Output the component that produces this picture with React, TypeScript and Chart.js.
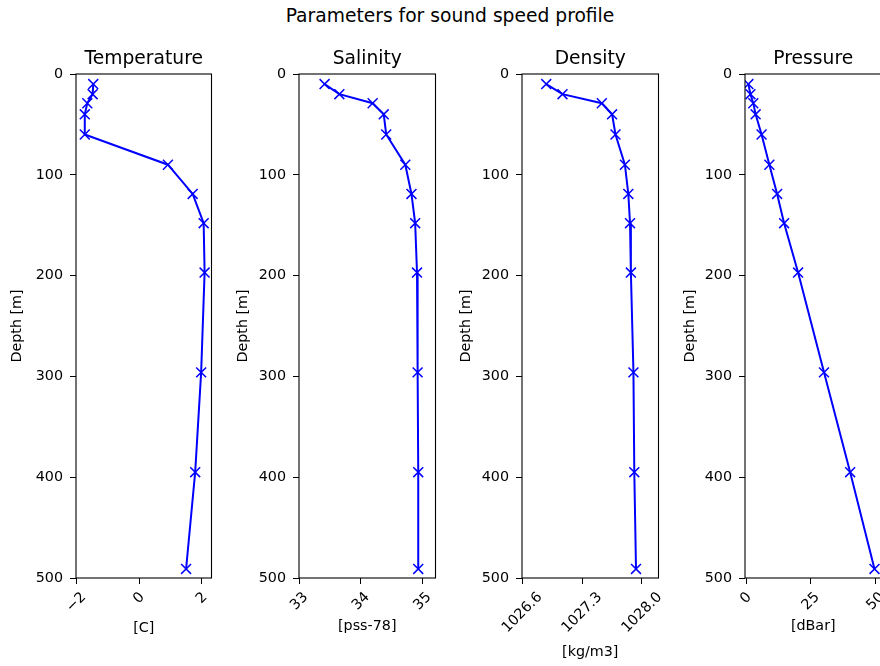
import React, { useEffect, useRef } from "react";
import { Chart, registerables } from "chart.js";

Chart.register(...registerables);

// ---------------- data ----------------
const depths = [10, 20, 29, 40, 60, 90, 119, 148, 197, 296, 395, 491];
const temperature = [-1.46, -1.48, -1.65, -1.73, -1.73, 0.92, 1.71, 2.06, 2.09, 1.98, 1.79, 1.5];
const salinity = [33.41, 33.65, 34.19, 34.37, 34.41, 34.72, 34.82, 34.88, 34.91, 34.92, 34.93, 34.93];
const density = [1026.88, 1027.07, 1027.53, 1027.65, 1027.69, 1027.8, 1027.84, 1027.86, 1027.87, 1027.9, 1027.91, 1027.93];
const pressure = [0.9, 1.7, 2.8, 3.7, 6.0, 9.0, 12.0, 14.7, 20.1, 30.1, 40.2, 49.6];

const depthTicks = [0, 100, 200, 300, 400, 500];
const temperatureTicks = [-2, 0, 2];
const temperatureTickLabels = ["\u22122", "0", "2"];
const salinityTicks = [33, 34, 35];
const salinityTickLabels = ["33", "34", "35"];
const densityTicks = [1026.6, 1027.3, 1028.0];
const densityTickLabels = ["1026.6", "1027.3", "1028.0"];
const pressureTicks = [0, 25, 50];
const pressureTickLabels = ["0", "25", "50"];

const panelTitles = ["Temperature", "Salinity", "Density", "Pressure"];
const xLabels = ["[C]", "[pss-78]", "[kg/m3]", "[dBar]"];
const yLabel = "Depth [m]";
const suptitle = "Parameters for sound speed profile";

// ---------------- style / layout ----------------
const FONT = '"DejaVu Sans", sans-serif';
const TICK_SIZE = 14.3;
const TITLE_SIZE = 18.7;
const H = 666;
const PLOT_TOP = 74;
const PLOT_BOTTOM = 578;
const Y_AXIS_W = 76;
const RIGHT_PAD = 8;
const TICK_LEN = 6;
const TICK_PAD = 5;

type Panel = {
  title: string;
  xLabel: string;
  values: number[];
  min: number;
  max: number;
  ticks: number[];
  tickLabels: string[];
  plotLeft: number;
  plotWidth: number;
  xTitlePad: number;
  yTitlePad: number;
};

const panels: Panel[] = [
  { title: panelTitles[0], xLabel: xLabels[0], values: temperature, min: -2.01, max: 2.31, ticks: temperatureTicks, tickLabels: temperatureTickLabels, plotLeft: 76, plotWidth: 136, xTitlePad: 29, yTitlePad: 8.4 },
  { title: panelTitles[1], xLabel: xLabels[1], values: salinity, min: 32.995, max: 35.21, ticks: salinityTicks, tickLabels: salinityTickLabels, plotLeft: 299, plotWidth: 137, xTitlePad: 31.4, yTitlePad: 11.9 },
  { title: panelTitles[2], xLabel: xLabels[2], values: density, min: 1026.5965, max: 1028.193, ticks: densityTicks, tickLabels: densityTickLabels, plotLeft: 522, plotWidth: 137, xTitlePad: 5.4, yTitlePad: 11.4 },
  { title: panelTitles[3], xLabel: xLabels[3], values: pressure, min: -0.4, max: 52.3, ticks: pressureTicks, tickLabels: pressureTickLabels, plotLeft: 745, plotWidth: 137, xTitlePad: 31.4, yTitlePad: 12.4 },
];

const decorPlugin = {
  id: "panelDecor",
  afterDraw(chart: any, _args: any, opts: any) {
    const { ctx, chartArea: a } = chart;
    ctx.save();
    // frame (all four spines)
    ctx.strokeStyle = "#000";
    ctx.lineWidth = 1.1;
    ctx.strokeRect(a.left, a.top, a.right - a.left, a.bottom - a.top);
    // subplot title
    ctx.fillStyle = "#000";
    ctx.font = `${TITLE_SIZE}px ${FONT}`;
    ctx.textAlign = "center";
    ctx.textBaseline = "alphabetic";
    ctx.fillText(opts.title, (a.left + a.right) / 2, 64);
    // rotated x tick labels, centred on their tick (matplotlib style)
    const xs = chart.scales.x;
    ctx.font = `${TICK_SIZE}px ${FONT}`;
    ctx.textAlign = "center";
    ctx.textBaseline = "middle";
    const hgt = TICK_SIZE * 1.17;
    opts.ticks.forEach((v: number, i: number) => {
      const s = opts.tickLabels[i];
      const px = xs.getPixelForValue(v);
      const w = ctx.measureText(s).width;
      const half = ((w + hgt) * Math.SQRT1_2) / 2;
      const cy = a.bottom + TICK_LEN + TICK_PAD + half;
      ctx.save();
      ctx.translate(px, cy);
      ctx.rotate(-Math.PI / 4);
      ctx.fillText(s, 0, 0);
      ctx.restore();
    });
    ctx.restore();
  },
};

function PanelChart({ p }: { p: Panel }) {
  const ref = useRef<HTMLCanvasElement | null>(null);
  const cw = Y_AXIS_W + p.plotWidth + RIGHT_PAD;
  useEffect(() => {
    if (!ref.current) return;
    const chart = new Chart(ref.current, {
      type: "scatter",
      data: {
        datasets: [
          {
            data: p.values.map((v, i) => ({ x: v, y: depths[i] })),
            showLine: true,
            borderColor: "#0000ff",
            backgroundColor: "#0000ff",
            borderWidth: 2,
            pointStyle: "crossRot",
            pointRadius: 7,
            pointBorderWidth: 1.5,
            pointBorderColor: "#0000ff",
            tension: 0,
          } as any,
        ],
      },
      plugins: [decorPlugin as any],
      options: {
        responsive: false,
        animation: false,
        devicePixelRatio: 1,
        events: [],
        layout: { padding: { left: 0, top: PLOT_TOP, right: RIGHT_PAD, bottom: 0 } },
        plugins: {
          legend: { display: false },
          tooltip: { enabled: false },
          title: { display: false },
          panelDecor: { title: p.title, ticks: p.ticks, tickLabels: p.tickLabels },
        } as any,
        scales: {
          x: {
            type: "linear",
            position: "bottom",
            min: p.min,
            max: p.max,
            afterBuildTicks: (s: any) => {
              s.ticks = p.ticks.map((v) => ({ value: v }));
            },
            afterFit: (s: any) => {
              s.height = H - PLOT_BOTTOM;
            },
            ticks: { display: false },
            grid: { display: true, drawOnChartArea: false, drawTicks: true, tickLength: TICK_LEN, color: "#000", lineWidth: 1 },
            border: { display: false },
            title: {
              display: true,
              text: p.xLabel,
              color: "#000",
              font: { family: FONT, size: TICK_SIZE, lineHeight: 1.2 },
              padding: { top: 0, bottom: p.xTitlePad },
            },
          },
          y: {
            type: "linear",
            position: "left",
            reverse: true,
            min: 0,
            max: 500,
            afterBuildTicks: (s: any) => {
              s.ticks = depthTicks.map((v) => ({ value: v }));
            },
            afterFit: (s: any) => {
              s.width = Y_AXIS_W;
            },
            ticks: {
              color: "#000",
              padding: 7,
              font: { family: FONT, size: TICK_SIZE },
              callback: (v: any) => String(v),
            },
            grid: { display: true, drawOnChartArea: false, drawTicks: true, tickLength: TICK_LEN, color: "#000", lineWidth: 1 },
            border: { display: false },
            title: {
              display: true,
              text: yLabel,
              color: "#000",
              font: { family: FONT, size: TICK_SIZE, lineHeight: 1.2 },
              padding: { top: p.yTitlePad, bottom: 0 },
            },
          },
        },
      } as any,
    });
    return () => chart.destroy();
  }, [p]);
  return (
    <canvas
      ref={ref}
      width={cw}
      height={H}
      style={{ position: "absolute", left: p.plotLeft - Y_AXIS_W, top: 0, width: cw, height: H }}
    />
  );
}

export default function App() {
  return (
    <div
      style={{
        position: "fixed",
        left: 0,
        top: 0,
        width: 880,
        height: H,
        overflow: "hidden",
        background: "#fff",
      }}
    >
      <div
        style={{
          position: "absolute",
          left: 0,
          top: 5,
          width: 900,
          textAlign: "center",
          fontFamily: FONT,
          fontSize: TITLE_SIZE,
          lineHeight: "22px",
          color: "#000",
        }}
      >
        {suptitle}
      </div>
      {panels.map((p, i) => (
        <PanelChart key={i} p={p} />
      ))}
    </div>
  );
}
